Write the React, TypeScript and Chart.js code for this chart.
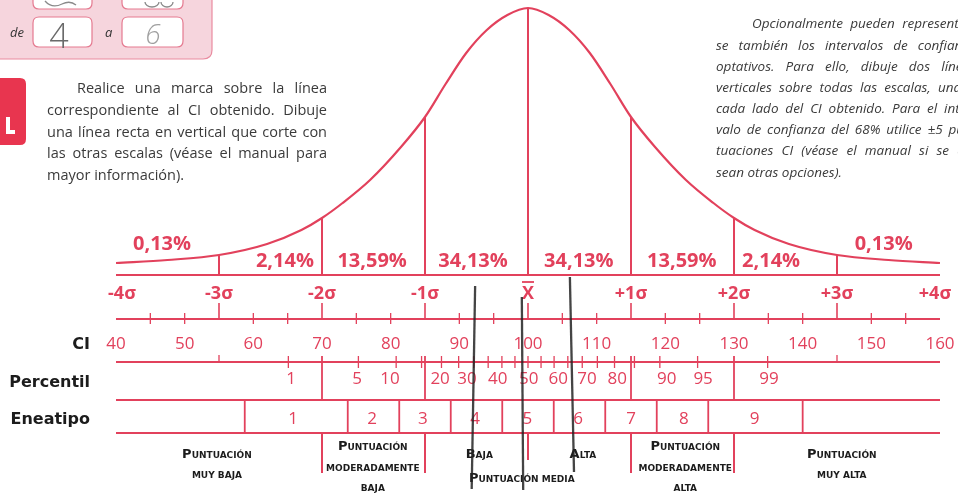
import React, { useEffect, useRef } from "react";
import { Chart, registerables } from "chart.js";

Chart.register(...registerables);

const RED = "#e2415c";
const INK = "#1c1c1c";
const TEXT = "#3a3a3a";

// Bell curve: CI value vs. height above the base line
const curveCI = [40, 47.5, 55, 62, 67, 70, 73, 77, 81.5, 85, 88, 91, 94, 97, 100, 103, 106, 109, 112, 115, 118.5, 123, 127, 130, 133, 138, 145, 152.5, 160];
const curveHeight = [12, 15, 20, 31, 45, 57, 72, 95, 128, 158, 191, 222, 245, 260, 267, 260, 245, 222, 191, 158, 128, 95, 72, 57, 45, 31, 20, 15, 12];

// Sigma scale
const sigmaCI = [40, 55, 70, 85, 100, 115, 130, 145, 160];
const sigmaLabels = ["-4σ", "-3σ", "-2σ", "-1σ", "X", "+1σ", "+2σ", "+3σ", "+4σ"];
const bandPercents = ["0,13%", "2,14%", "13,59%", "34,13%", "34,13%", "13,59%", "2,14%", "0,13%"];

// CI scale
const ciLabels = [40, 50, 60, 70, 80, 90, 100, 110, 120, 130, 140, 150, 160];
const ciMinorTicks = [45, 50, 60, 65, 75, 80, 90, 95, 105, 110, 120, 125, 135, 140, 150, 155];

// Percentil scale
const percentileTickCI = [65.1, 75.3, 80.8, 84.5, 87.4, 89.9, 92.1, 94.2, 96.2, 98.1, 100, 101.9, 103.8, 105.8, 107.9, 110.1, 112.6, 115.5, 119.2, 124.7, 134.9];
const percentileLabels = ["1", "5", "10", "20", "30", "40", "50", "60", "70", "80", "90", "95", "99"];
const percentileLabelCI = [65.5, 75.1, 79.9, 87.2, 91.1, 95.6, 100.1, 104.4, 108.6, 113, 120.2, 125.5, 135.1];
const percentileDividersCI = [70, 85, 115, 130];

// Eneatipo scale
const eneatipoBoundsCI = [58.75, 73.75, 81.25, 88.75, 96.25, 103.75, 111.25, 118.75, 126.25, 140];
const eneatipoLabels = ["1", "2", "3", "4", "5", "6", "7", "8", "9"];
const eneatipoLabelCI = [65.8, 77.3, 84.7, 92.3, 99.9, 107.3, 115, 122.7, 133];

// Categories
const categoryDividersCI = [70, 85, 115, 130];
const categoryMeanDividerCI = [100];
const categoryLabels = [
  ["Puntuación", "muy baja"],
  ["Puntuación", "moderadamente", "baja"],
  ["Baja"],
  ["Puntuación media"],
  ["Alta"],
  ["Puntuación", "moderadamente", "alta"],
  ["Puntuación", "muy alta"],
];
const categoryCI = [54.7, 77.4, 92.9, 99.1, 108, 122.9, 145.7];

// Hand-drawn pencil marks (CI at top, CI at bottom)
const pencilMarksCI = [
  [92.3, 91.8],
  [99.1, 99.3],
  [106.1, 106.7],
];

// Texts
const leftParagraph = [
  "Realice una marca sobre la línea",
  "correspondiente al CI obtenido. Dibuje",
  "una línea recta en vertical que corte con",
  "las otras escalas (véase el manual para",
  "mayor información).",
];
const rightParagraph = [
  "Opcionalmente pueden representar-",
  "se también los intervalos de confianza",
  "optativos. Para ello, dibuje dos líneas",
  "verticales sobre todas las escalas, una a",
  "cada lado del CI obtenido. Para el inter-",
  "valo de confianza del 68% utilice ±5 pun-",
  "tuaciones CI (véase el manual si se de-",
  "sean otras opciones).",
];
const rowLabels = ["CI", "Percentil", "Eneatipo"];
const boxWords = ["de", "a"];
const boxDigits = ["4", "6"];

function textC(ctx: CanvasRenderingContext2D, s: string, x: number, cy: number, font: string, size: number, color: string, align: CanvasTextAlign = "center") {
  ctx.font = font;
  ctx.fillStyle = color;
  ctx.textAlign = align;
  ctx.textBaseline = "alphabetic";
  ctx.fillText(s, x, cy + size * 0.36);
}

function smallCaps(ctx: CanvasRenderingContext2D, text: string, cx: number, cy: number, big = 13, small = 9) {
  const runs: { s: string; size: number }[] = [];
  for (const ch of text) {
    const up = ch !== ch.toLowerCase();
    const size = up ? big : small;
    const s = ch.toUpperCase();
    const last = runs[runs.length - 1];
    if (last && last.size === size) last.s += s;
    else runs.push({ s, size });
  }
  let total = 0;
  for (const r of runs) {
    ctx.font = `bold ${r.size}px "DejaVu Sans"`;
    total += ctx.measureText(r.s).width;
  }
  let x = cx - total / 2;
  ctx.textAlign = "left";
  ctx.textBaseline = "alphabetic";
  ctx.fillStyle = INK;
  for (const r of runs) {
    ctx.font = `bold ${r.size}px "DejaVu Sans"`;
    ctx.fillText(r.s, x, cy + 3.4);
    x += ctx.measureText(r.s).width;
  }
}

function justified(ctx: CanvasRenderingContext2D, line: string, x0: number, x1: number, y: number, doJustify: boolean) {
  ctx.textAlign = "left";
  ctx.textBaseline = "alphabetic";
  const words = line.split(" ");
  if (!doJustify || words.length < 2) {
    ctx.fillText(line, x0, y);
    return;
  }
  const widths = words.map((w) => ctx.measureText(w).width);
  const sum = widths.reduce((a, b) => a + b, 0);
  const gap = (x1 - x0 - sum) / (words.length - 1);
  let x = x0;
  words.forEach((w, i) => {
    ctx.fillText(w, x, y);
    x += widths[i] + gap;
  });
}

function roundRect(ctx: CanvasRenderingContext2D, x: number, y: number, w: number, h: number, r: number) {
  ctx.beginPath();
  ctx.moveTo(x + r, y);
  ctx.lineTo(x + w - r, y);
  ctx.quadraticCurveTo(x + w, y, x + w, y + r);
  ctx.lineTo(x + w, y + h - r);
  ctx.quadraticCurveTo(x + w, y + h, x + w - r, y + h);
  ctx.lineTo(x + r, y + h);
  ctx.quadraticCurveTo(x, y + h, x, y + h - r);
  ctx.lineTo(x, y + r);
  ctx.quadraticCurveTo(x, y, x + r, y);
  ctx.closePath();
}

const backgroundPlugin = {
  id: "pageBackground",
  beforeDraw(chart: any) {
    const ctx: CanvasRenderingContext2D = chart.ctx;
    ctx.save();
    // Pink answer box
    roundRect(ctx, -20, -30, 232, 89, 9);
    ctx.fillStyle = "#f6d5dd";
    ctx.fill();
    ctx.strokeStyle = "#e98ca0";
    ctx.lineWidth = 1.2;
    ctx.stroke();
    const boxes = [
      [33, 92],
      [122, 183],
    ];
    for (const [a, b] of boxes) {
      roundRect(ctx, a, -20, b - a, 29, 6);
      ctx.fillStyle = "#ffffff";
      ctx.fill();
      ctx.strokeStyle = "#e57a90";
      ctx.stroke();
      roundRect(ctx, a, 17, b - a, 30, 6);
      ctx.fill();
      ctx.stroke();
    }
    ctx.font = 'italic 13px "Open Sans"';
    ctx.fillStyle = "#333";
    ctx.textAlign = "left";
    ctx.fillText(boxWords[0], 10, 37);
    ctx.fillText(boxWords[1], 105, 37);
    // handwritten digits
    ctx.font = '300 34px "Open Sans"';
    ctx.fillStyle = "#6a6a6a";
    ctx.textAlign = "center";
    ctx.fillText(boxDigits[0], 59, 48);
    ctx.fillStyle = "#a0a0a0";
    ctx.font = 'italic 300 28px "Open Sans"';
    ctx.fillText(boxDigits[1], 153, 44);
    // partial handwriting in the upper boxes
    ctx.strokeStyle = "#8a8a8a";
    ctx.lineWidth = 1.3;
    ctx.beginPath();
    ctx.moveTo(45, 1);
    ctx.quadraticCurveTo(52, 9, 62, 4);
    ctx.quadraticCurveTo(70, 0, 76, 5);
    ctx.stroke();
    ctx.beginPath();
    ctx.ellipse(152, 2, 7, 5, 0, 0, Math.PI);
    ctx.stroke();
    ctx.beginPath();
    ctx.ellipse(167, 2, 6, 5, 0, 0, Math.PI);
    ctx.stroke();

    // red tab
    roundRect(ctx, -12, 78, 38, 67, 6);
    ctx.fillStyle = "#e8354f";
    ctx.fill();
    ctx.fillStyle = "#ffffff";
    ctx.fillRect(6, 117, 4, 17);
    ctx.fillRect(6, 130, 9, 4);

    // left paragraph
    ctx.font = '14.5px "Open Sans"';
    ctx.fillStyle = TEXT;
    const ly = [88, 110, 132, 153, 175];
    leftParagraph.forEach((line, i) => {
      const x0 = i === 0 ? 77 : 47;
      justified(ctx, line, x0, 327, ly[i] + 5, i < leftParagraph.length - 1);
    });

    // right paragraph (italic, cut by the page edge)
    ctx.font = 'italic 13.5px "Open Sans"';
    ctx.fillStyle = TEXT;
    const ry = [23, 45, 66, 87, 108, 129, 150, 172];
    rightParagraph.forEach((line, i) => {
      const x0 = i === 0 ? 752 : 716;
      justified(ctx, line, x0, 976, ry[i] + 4.8, i < rightParagraph.length - 1);
    });
    ctx.restore();
  },
};

const scalesPlugin = {
  id: "scaleRows",
  afterDatasetsDraw(chart: any) {
    const ctx: CanvasRenderingContext2D = chart.ctx;
    const xs = chart.scales.x;
    const ys = chart.scales.y;
    const X = (v: number) => xs.getPixelForValue(v);
    const Y = (v: number) => ys.getPixelForValue(v);
    const B = Y(0);
    const L = X(40);
    const R = X(160);
    const heightAt = (ci: number) => curveHeight[curveCI.indexOf(ci)];

    ctx.save();
    ctx.strokeStyle = RED;
    ctx.lineCap = "butt";

    const vline = (x: number, y0: number, y1: number, w = 2) => {
      ctx.lineWidth = w;
      ctx.beginPath();
      ctx.moveTo(x, y0);
      ctx.lineTo(x, y1);
      ctx.stroke();
    };
    const hline = (y: number, w = 2) => {
      ctx.lineWidth = w;
      ctx.beginPath();
      ctx.moveTo(L, y);
      ctx.lineTo(R, y);
      ctx.stroke();
    };

    // vertical sigma lines under the curve
    sigmaCI.slice(1, -1).forEach((ci) => vline(X(ci), Y(heightAt(ci)), B));
    hline(B, 2.2);

    // percent labels
    const bandLabelCI = [46.7, 64.6, 77.3, 92, 107.4, 122.4, 135.4, 151.8];
    const bandLabelY = [243, 260, 260, 260, 260, 260, 260, 243];
    bandPercents.forEach((s, i) =>
      textC(ctx, s, X(bandLabelCI[i]), bandLabelY[i], 'bold 20px "Open Sans"', 20, RED)
    );

    // sigma labels
    const sigY = B + 18;
    sigmaLabels.forEach((s, i) => {
      let x = X(sigmaCI[i]);
      if (i === 0) x += 6;
      if (i === sigmaLabels.length - 1) x -= 5;
      textC(ctx, s, x, sigY, 'bold 18px "Open Sans"', 18, RED);
      if (s === "X") {
        ctx.lineWidth = 1.8;
        ctx.beginPath();
        ctx.moveTo(x - 6, B + 7);
        ctx.lineTo(x + 6, B + 7);
        ctx.stroke();
      }
    });

    // sigma / CI axis line
    const axY = B + 44;
    hline(axY, 2);
    sigmaCI.slice(1, -1).forEach((ci) => vline(X(ci), B + 28, axY, 1.6));
    ciMinorTicks.forEach((ci) => vline(X(ci), B + 38, B + 49, 1.3));
    ciLabels.forEach((v) => textC(ctx, String(v), X(v), B + 68, '17px "Open Sans"', 17, RED));

    // percentile row
    const pY = B + 87;
    hline(pY, 2);
    percentileTickCI.forEach((ci) => vline(X(ci), B + 81, B + 93, 1.3));
    [55, 145].forEach((ci) => vline(X(ci), B + 80, pY, 1.3));
    percentileDividersCI.forEach((ci) => vline(X(ci), B + 81, B + 125, 1.8));
    percentileLabels.forEach((s, i) =>
      textC(ctx, s, X(percentileLabelCI[i]), B + 103, '17px "Open Sans"', 17, RED)
    );
    hline(B + 125, 2);

    // eneatipo row
    eneatipoBoundsCI.forEach((ci) => vline(X(ci), B + 125, B + 158, 1.8));
    eneatipoLabels.forEach((s, i) =>
      textC(ctx, s, X(eneatipoLabelCI[i]), B + 143, '17px "Open Sans"', 17, RED)
    );
    hline(B + 158, 2);

    // category dividers
    categoryDividersCI.forEach((ci) => vline(X(ci), B + 158, B + 198, 2));
    categoryMeanDividerCI.forEach((ci) => vline(X(ci), B + 158, B + 185, 2));

    // row labels
    const rowY = [B + 68, B + 106, B + 143];
    rowLabels.forEach((s, i) => textC(ctx, s, 90, rowY[i], 'bold 16px "DejaVu Sans"', 16, INK, "right"));

    // category labels
    categoryLabels.forEach((lines, i) => {
      const cx = X(categoryCI[i]);
      let y0: number;
      if (lines.length === 3) y0 = B + 172;
      else if (lines.length === 2) y0 = B + 180;
      else if (lines[0].length > 6) y0 = B + 204;
      else y0 = B + 180;
      const step = lines.length === 3 ? 20.5 : 20;
      lines.forEach((ln, j) => smallCaps(ctx, ln, cx, y0 + j * step));
    });

    // pencil marks
    const pencilY = [
      [B + 11, B + 214],
      [B + 22, B + 215],
      [B + 2, B + 197],
    ];
    ctx.strokeStyle = "rgba(35,35,35,0.85)";
    ctx.lineWidth = 2.3;
    pencilMarksCI.forEach(([a, b], i) => {
      ctx.beginPath();
      ctx.moveTo(X(a), pencilY[i][0]);
      ctx.lineTo(X(b), pencilY[i][1]);
      ctx.stroke();
    });
    ctx.restore();
  },
};

export default function App() {
  const ref = useRef<HTMLCanvasElement | null>(null);
  useEffect(() => {
    document.body.style.margin = "0";
    const canvas = ref.current;
    if (!canvas) return;
    const chart = new Chart(canvas, {
      type: "line",
      data: {
        datasets: [
          {
            data: curveCI.map((x, i) => ({ x, y: curveHeight[i] })),
            borderColor: RED,
            borderWidth: 2.2,
            pointRadius: 0,
            fill: false,
            cubicInterpolationMode: "monotone",
            clip: false as any,
          },
        ],
      },
      options: {
        animation: false,
        responsive: false,
        events: [],
        layout: { padding: { left: 116, right: 18, top: 8, bottom: 219 } },
        scales: {
          x: { type: "linear", min: 40, max: 160, display: false },
          y: { type: "linear", min: 0, max: 267, display: false },
        },
        plugins: { legend: { display: false }, tooltip: { enabled: false } },
      },
      plugins: [backgroundPlugin, scalesPlugin],
    } as any);
    return () => chart.destroy();
  }, []);
  return (
    <div style={{ position: "absolute", left: 0, top: 0, width: 958, height: 494, overflow: "hidden", background: "#fff" }}>
      <canvas ref={ref} width={958} height={494} style={{ display: "block", width: 958, height: 494 }} />
    </div>
  );
}
